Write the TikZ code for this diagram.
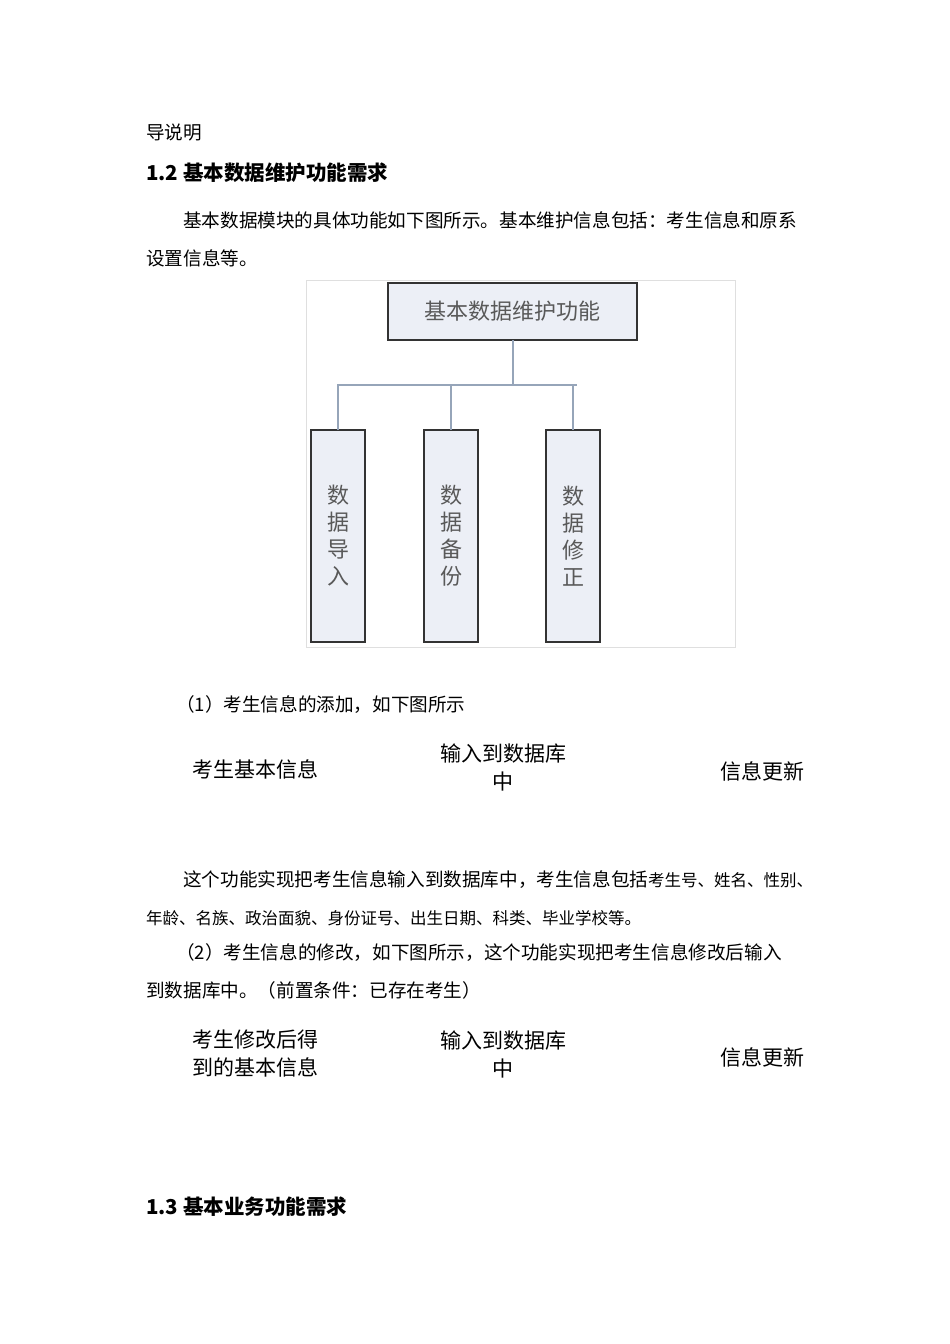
\documentclass[tikz,border=0pt]{standalone}
\usepackage{fontspec}
\setmainfont{Noto Sans CJK SC}
\definecolor{lnc}{RGB}{150,165,185}
\definecolor{bxf}{RGB}{236,239,246}
\begin{document}
\begin{tikzpicture}[x=1pt,y=-1pt,
  t/.style={anchor=west,inner sep=0pt,font=\fontsize{18.6}{22}\selectfont},
  h/.style={anchor=west,inner sep=0pt,font=\fontsize{20.5}{24}\selectfont\bfseries},
  f/.style={inner sep=0pt,font=\fontsize{21}{28}\selectfont,align=center},
  box/.style={draw=black!80,line width=1.3pt,fill=bxf},
  ln/.style={draw=lnc,line width=1.5pt},
  bt/.style={text=black!65,font=\fontsize{22}{27}\selectfont,align=center,inner sep=0pt}]
\useasboundingbox (0,0) rectangle (950,1344);
\fill[white] (0,0) rectangle (950,1344);
\node[t] (p0) at (146,133) {导说明};
\node[h] (h12) at (146,173) {1.2 基本数据维护功能需求};
\node[t] (p1) at (183,220) {基本数据模块的具体功能如下图所示。基本维护信息包括：考生信息和原系};
\node[t] (p2) at (146,258) {设置信息等。};
% diagram
\draw[gray!25] (306,280) rectangle (735,647);
\draw[box] (388,283) rectangle (637,340);
\node[bt] (top) at (512,311) {基本数据维护功能};
\draw[box] (311,430) rectangle (365,642);
\draw[box] (424,430) rectangle (478,642);
\draw[box] (546,430) rectangle (600,642);
\node[bt] (c1) at (338,536) {数\\据\\导\\入};
\node[bt] (c2) at (451,536) {数\\据\\备\\份};
\node[bt] (c3) at (573,536) {数\\据\\修\\正};
\coordinate (tr) at (513,340);
\coordinate (bus) at (513,385);
\draw[ln] (tr) -- (bus);
\draw[ln] (338,430) -- (338,385) -- (577,385);
\draw[ln] (451,385) -- (451,430);
\draw[ln] (573,385) -- (573,430);
\node[t] (p3) at (176,705) {（1）考生信息的添加，如下图所示};
\node[f,anchor=west] (a1) at (192,769) {考生基本信息};
\node[f] (a2) at (503,767) {输入到数据库\\中};
\node[f,anchor=west] (a3) at (720,771) {信息更新};
\node[t] (p4) at (183,880) {这个功能实现把考生信息输入到数据库中，考生信息包括{\fontsize{16.5}{18}\selectfont 考生号、姓名、性别、}};
\node[t,font=\fontsize{16.5}{18}\selectfont] (p5) at (146,918) {年龄、名族、政治面貌、身份证号、出生日期、科类、毕业学校等。};
\node[t] (p6) at (176,953) {（2）考生信息的修改，如下图所示，这个功能实现把考生信息修改后输入};
\node[t] (p7) at (146,990) {到数据库中。（前置条件：已存在考生）};
\node[f,anchor=west] (b1) at (192,1054) {考生修改后得\\到的基本信息};
\node[f] (b2) at (503,1054) {输入到数据库\\中};
\node[f,anchor=west] (b3) at (720,1057) {信息更新};
\node[h] (h13) at (146,1207) {1.3 基本业务功能需求};
\end{tikzpicture}
\end{document}
